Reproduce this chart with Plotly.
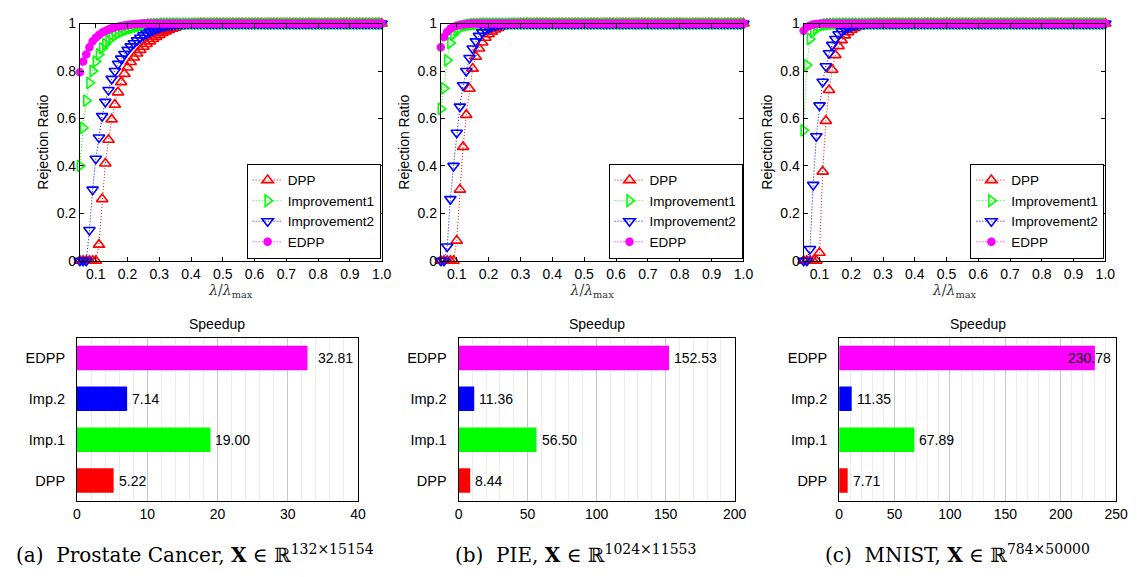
import plotly.graph_objects as go

# ---------------- data ----------------
lam = [0.05, 0.06, 0.07, 0.08, 0.09, 0.10, 0.11, 0.12, 0.13, 0.14,
       0.15, 0.16, 0.17, 0.18, 0.19, 0.20, 0.21, 0.22, 0.23, 0.24,
       0.25, 0.26, 0.27, 0.28, 0.29, 0.30, 0.31, 0.32, 0.33, 0.34,
       0.35, 0.36, 0.37, 0.38, 0.39, 0.40, 0.41, 0.42, 0.43, 0.44,
       0.45, 0.46, 0.47, 0.48, 0.49, 0.50, 0.51, 0.52, 0.53, 0.54,
       0.55, 0.56, 0.57, 0.58, 0.59, 0.60, 0.61, 0.62, 0.63, 0.64,
       0.65, 0.66, 0.67, 0.68, 0.69, 0.70, 0.71, 0.72, 0.73, 0.74,
       0.75, 0.76, 0.77, 0.78, 0.79, 0.80, 0.81, 0.82, 0.83, 0.84,
       0.85, 0.86, 0.87, 0.88, 0.89, 0.90, 0.91, 0.92, 0.93, 0.94,
       0.95, 0.96, 0.97, 0.98, 0.99, 1.00]

# (a) Prostate Cancer
dpp_a = [0, 0, 0, 0, 0, 0, 0.068, 0.26, 0.41, 0.51,
         0.596, 0.658, 0.71, 0.753, 0.788, 0.815, 0.838, 0.857, 0.874, 0.889,
         0.902, 0.914, 0.925, 0.935, 0.944, 0.952, 0.96, 0.967, 0.973, 0.978,
         0.983, 0.987, 0.99, 0.993, 0.995, 0.997, 0.998, 0.999, 1, 1,
         1, 1, 1, 1, 1, 1, 1, 1, 1, 1,
         1, 1, 1, 1, 1, 1, 1, 1, 1, 1,
         1, 1, 1, 1, 1, 1, 1, 1, 1, 1,
         1, 1, 1, 1, 1, 1, 1, 1, 1, 1,
         1, 1, 1, 1, 1, 1, 1, 1, 1, 1,
         1, 1, 1, 1, 1, 1]
imp1_a = [0.40, 0.56, 0.675, 0.75, 0.80, 0.84, 0.87, 0.895, 0.913, 0.928,
          0.94, 0.95, 0.958, 0.965, 0.971, 0.976, 0.98, 0.984, 0.987, 0.99,
          0.992, 0.994, 0.996, 0.997, 0.998, 0.999, 1, 1, 1, 1,
          1, 1, 1, 1, 1, 1, 1, 1, 1, 1,
          1, 1, 1, 1, 1, 1, 1, 1, 1, 1,
          1, 1, 1, 1, 1, 1, 1, 1, 1, 1,
          1, 1, 1, 1, 1, 1, 1, 1, 1, 1,
          1, 1, 1, 1, 1, 1, 1, 1, 1, 1,
          1, 1, 1, 1, 1, 1, 1, 1, 1, 1,
          1, 1, 1, 1, 1, 1]
imp2_a = [0, 0, 0, 0.13, 0.30, 0.43, 0.52, 0.61, 0.67, 0.72,
          0.767, 0.80, 0.83, 0.852, 0.872, 0.889, 0.904, 0.917, 0.929, 0.94,
          0.95, 0.958, 0.966, 0.972, 0.978, 0.983, 0.987, 0.99, 0.993, 0.995,
          0.997, 0.998, 0.999, 1, 1, 1, 1, 1, 1, 1,
          1, 1, 1, 1, 1, 1, 1, 1, 1, 1,
          1, 1, 1, 1, 1, 1, 1, 1, 1, 1,
          1, 1, 1, 1, 1, 1, 1, 1, 1, 1,
          1, 1, 1, 1, 1, 1, 1, 1, 1, 1,
          1, 1, 1, 1, 1, 1, 1, 1, 1, 1,
          1, 1, 1, 1, 1, 1]
edpp_a = [0.795, 0.84, 0.87, 0.90, 0.925, 0.94, 0.952, 0.962, 0.969, 0.975,
          0.98, 0.984, 0.987, 0.99, 0.992, 0.994, 0.996, 0.997, 0.998, 0.999,
          1, 1, 1, 1, 1, 1, 1, 1, 1, 1,
          1, 1, 1, 1, 1, 1, 1, 1, 1, 1,
          1, 1, 1, 1, 1, 1, 1, 1, 1, 1,
          1, 1, 1, 1, 1, 1, 1, 1, 1, 1,
          1, 1, 1, 1, 1, 1, 1, 1, 1, 1,
          1, 1, 1, 1, 1, 1, 1, 1, 1, 1,
          1, 1, 1, 1, 1, 1, 1, 1, 1, 1,
          1, 1, 1, 1, 1, 1]

# (b) PIE
dpp_b = [0, 0, 0, 0, 0, 0.085, 0.30, 0.48, 0.615, 0.725,
         0.81, 0.86, 0.895, 0.92, 0.94, 0.955, 0.966, 0.975, 0.982, 0.987,
         0.991, 0.994, 0.996, 0.998, 0.999, 1, 1, 1, 1, 1,
         1, 1, 1, 1, 1, 1, 1, 1, 1, 1,
         1, 1, 1, 1, 1, 1, 1, 1, 1, 1,
         1, 1, 1, 1, 1, 1, 1, 1, 1, 1,
         1, 1, 1, 1, 1, 1, 1, 1, 1, 1,
         1, 1, 1, 1, 1, 1, 1, 1, 1, 1,
         1, 1, 1, 1, 1, 1, 1, 1, 1, 1,
         1, 1, 1, 1, 1, 1]
imp1_b = [0.64, 0.727, 0.845, 0.918, 0.955, 0.972, 0.982, 0.988, 0.992, 0.995,
          0.997, 0.998, 0.999, 1, 1, 1, 1, 1, 1, 1,
          1, 1, 1, 1, 1, 1, 1, 1, 1, 1,
          1, 1, 1, 1, 1, 1, 1, 1, 1, 1,
          1, 1, 1, 1, 1, 1, 1, 1, 1, 1,
          1, 1, 1, 1, 1, 1, 1, 1, 1, 1,
          1, 1, 1, 1, 1, 1, 1, 1, 1, 1,
          1, 1, 1, 1, 1, 1, 1, 1, 1, 1,
          1, 1, 1, 1, 1, 1, 1, 1, 1, 1,
          1, 1, 1, 1, 1, 1]
imp2_b = [0, 0, 0.06, 0.26, 0.40, 0.54, 0.65, 0.74, 0.80, 0.855,
          0.895, 0.925, 0.948, 0.963, 0.974, 0.982, 0.988, 0.992, 0.995, 0.997,
          0.999, 1, 1, 1, 1, 1, 1, 1, 1, 1,
          1, 1, 1, 1, 1, 1, 1, 1, 1, 1,
          1, 1, 1, 1, 1, 1, 1, 1, 1, 1,
          1, 1, 1, 1, 1, 1, 1, 1, 1, 1,
          1, 1, 1, 1, 1, 1, 1, 1, 1, 1,
          1, 1, 1, 1, 1, 1, 1, 1, 1, 1,
          1, 1, 1, 1, 1, 1, 1, 1, 1, 1,
          1, 1, 1, 1, 1, 1]
edpp_b = [0.90, 0.943, 0.965, 0.978, 0.986, 0.991, 0.994, 0.996, 0.998, 0.999,
          1, 1, 1, 1, 1, 1, 1, 1, 1, 1,
          1, 1, 1, 1, 1, 1, 1, 1, 1, 1,
          1, 1, 1, 1, 1, 1, 1, 1, 1, 1,
          1, 1, 1, 1, 1, 1, 1, 1, 1, 1,
          1, 1, 1, 1, 1, 1, 1, 1, 1, 1,
          1, 1, 1, 1, 1, 1, 1, 1, 1, 1,
          1, 1, 1, 1, 1, 1, 1, 1, 1, 1,
          1, 1, 1, 1, 1, 1, 1, 1, 1, 1,
          1, 1, 1, 1, 1, 1]

# (c) MNIST
dpp_c = [0, 0, 0, 0, 0, 0.034, 0.376, 0.59, 0.72, 0.805,
         0.867, 0.905, 0.93, 0.95, 0.964, 0.974, 0.982, 0.987, 0.991, 0.994,
         0.996, 0.998, 0.999, 1, 1, 1, 1, 1, 1, 1,
         1, 1, 1, 1, 1, 1, 1, 1, 1, 1,
         1, 1, 1, 1, 1, 1, 1, 1, 1, 1,
         1, 1, 1, 1, 1, 1, 1, 1, 1, 1,
         1, 1, 1, 1, 1, 1, 1, 1, 1, 1,
         1, 1, 1, 1, 1, 1, 1, 1, 1, 1,
         1, 1, 1, 1, 1, 1, 1, 1, 1, 1,
         1, 1, 1, 1, 1, 1]
imp1_c = [0.55, 0.825, 0.935, 0.965, 0.98, 0.988, 0.993, 0.996, 0.998, 0.999,
          1, 1, 1, 1, 1, 1, 1, 1, 1, 1,
          1, 1, 1, 1, 1, 1, 1, 1, 1, 1,
          1, 1, 1, 1, 1, 1, 1, 1, 1, 1,
          1, 1, 1, 1, 1, 1, 1, 1, 1, 1,
          1, 1, 1, 1, 1, 1, 1, 1, 1, 1,
          1, 1, 1, 1, 1, 1, 1, 1, 1, 1,
          1, 1, 1, 1, 1, 1, 1, 1, 1, 1,
          1, 1, 1, 1, 1, 1, 1, 1, 1, 1,
          1, 1, 1, 1, 1, 1]
imp2_c = [0, 0, 0.05, 0.32, 0.525, 0.655, 0.755, 0.82, 0.875, 0.91,
          0.935, 0.955, 0.968, 0.977, 0.984, 0.989, 0.993, 0.996, 0.998, 0.999,
          1, 1, 1, 1, 1, 1, 1, 1, 1, 1,
          1, 1, 1, 1, 1, 1, 1, 1, 1, 1,
          1, 1, 1, 1, 1, 1, 1, 1, 1, 1,
          1, 1, 1, 1, 1, 1, 1, 1, 1, 1,
          1, 1, 1, 1, 1, 1, 1, 1, 1, 1,
          1, 1, 1, 1, 1, 1, 1, 1, 1, 1,
          1, 1, 1, 1, 1, 1, 1, 1, 1, 1,
          1, 1, 1, 1, 1, 1]
edpp_c = [0.97, 0.985, 0.992, 0.996, 0.998, 0.999, 1, 1, 1, 1,
          1, 1, 1, 1, 1, 1, 1, 1, 1, 1,
          1, 1, 1, 1, 1, 1, 1, 1, 1, 1,
          1, 1, 1, 1, 1, 1, 1, 1, 1, 1,
          1, 1, 1, 1, 1, 1, 1, 1, 1, 1,
          1, 1, 1, 1, 1, 1, 1, 1, 1, 1,
          1, 1, 1, 1, 1, 1, 1, 1, 1, 1,
          1, 1, 1, 1, 1, 1, 1, 1, 1, 1,
          1, 1, 1, 1, 1, 1, 1, 1, 1, 1,
          1, 1, 1, 1, 1, 1]

series_names = ["DPP", "Improvement1", "Improvement2", "EDPP"]

speed_cats = ["DPP", "Imp.1", "Imp.2", "EDPP"]
speed_a = [5.22, 19.00, 7.14, 32.81]
speed_b = [8.44, 56.50, 11.36, 152.53]
speed_c = [7.71, 67.89, 11.35, 230.78]

captions = [
    "(a)  Prostate Cancer, <b>X</b> ∈ ℝ<sup>132×15154</sup>",
    "(b)  PIE, <b>X</b> ∈ ℝ<sup>1024×11553</sup>",
    "(c)  MNIST, <b>X</b> ∈ ℝ<sup>784×50000</sup>",
]

# ---------------- styling ----------------
W, H = 1142, 577
SANS = "Liberation Sans, Arial, Helvetica, sans-serif"
SERIF = "DejaVu Serif, Liberation Serif, serif"
colors = ["#FF0000", "#00FF00", "#0000FF", "#FF00FF"]
symbols = ["triangle-up-open", "triangle-right-open", "triangle-down-open", "asterisk-open"]
msizes = [10, 10, 10, 7]
mwidths = [1.6, 1.6, 1.6, 2.8]

def px_x(a, b):
    return [a / W, b / W]

def px_y(top, bottom):
    return [1 - bottom / H, 1 - top / H]

top_x = [px_x(77, 383), px_x(443, 750), px_x(811, 1117)]
top_y = px_y(16, 260)
bot_x = [px_x(74, 359), px_x(461, 741), px_x(847, 1128)]
bot_y = px_y(339, 507)
cap_cx = [194, 580, 967]

fig = go.Figure()

line_sets = [
    [dpp_a, imp1_a, imp2_a, edpp_a],
    [dpp_b, imp1_b, imp2_b, edpp_b],
    [dpp_c, imp1_c, imp2_c, edpp_c],
]
legends = ["legend", "legend2", "legend3"]

for k, sets in enumerate(line_sets):
    xa = "x" if k == 0 else f"x{k+1}"
    ya = "y" if k == 0 else f"y{k+1}"
    for i, vals in enumerate(sets):
        fig.add_trace(go.Scatter(
            x=lam, y=vals, xaxis=xa, yaxis=ya, mode="lines+markers",
            name=series_names[i], legend=legends[k], cliponaxis=False,
            line=dict(color=colors[i], width=1, dash="1px,2px"),
            marker=dict(symbol=symbols[i], size=msizes[i], color=colors[i],
                        line=dict(color=colors[i], width=mwidths[i])),
        ))

speeds = [speed_a, speed_b, speed_c]
ranges = [[0, 40], [0, 200], [0, 250]]
dticks = [10, 50, 50]
minors = [2, 10, 10]
annotations = []

for k, sp in enumerate(speeds):
    n = k + 4
    fig.add_trace(go.Bar(
        x=sp, y=speed_cats, orientation="h", xaxis=f"x{n}", yaxis=f"y{n}",
        marker=dict(color=colors, line=dict(width=0)), showlegend=False,
    ))
    rmax = ranges[k][1]
    for v, c in zip(sp, speed_cats):
        label = f"{v:.2f}"
        if v / rmax > 0.8:
            annotations.append(dict(x=rmax, y=c, xref=f"x{n}", yref=f"y{n}", text=label,
                                    showarrow=False, xanchor="right", xshift=-3,
                                    font=dict(family=SANS, size=14, color="black")))
        else:
            annotations.append(dict(x=v, y=c, xref=f"x{n}", yref=f"y{n}", text=label,
                                    showarrow=False, xanchor="left", xshift=3,
                                    font=dict(family=SANS, size=14, color="black")))
    # "Speedup" title
    annotations.append(dict(x=(bot_x[k][0] + bot_x[k][1]) / 2, y=1 - 325 / H, xref="paper", yref="paper",
                            text="Speedup", showarrow=False, xanchor="center", yanchor="middle",
                            font=dict(family=SANS, size=14, color="black")))
    # caption
    annotations.append(dict(x=cap_cx[k] / W, y=1 - 562 / H, xref="paper", yref="paper",
                            text=captions[k], showarrow=False, xanchor="center", yanchor="middle",
                            font=dict(family=SERIF, size=20, color="black")))

layout = dict(
    width=W, height=H, margin=dict(l=0, r=0, t=0, b=0),
    paper_bgcolor="white", plot_bgcolor="white",
    font=dict(family=SANS, size=14, color="black"),
    bargap=0.4, annotations=annotations,
)

for k in range(3):
    xk = "xaxis" if k == 0 else f"xaxis{k+1}"
    yk = "yaxis" if k == 0 else f"yaxis{k+1}"
    xa = "x" if k == 0 else f"x{k+1}"
    ya = "y" if k == 0 else f"y{k+1}"
    layout[xk] = dict(
        domain=top_x[k], anchor=ya, range=[0.05, 1.0],
        tickvals=[0.1, 0.2, 0.3, 0.4, 0.5, 0.6, 0.7, 0.8, 0.9, 1.0], tickformat=".1f",
        ticks="inside", ticklen=4, tickcolor="black", showline=True, linecolor="black",
        linewidth=1, mirror="ticks", showgrid=False, zeroline=False,
        tickfont=dict(family=SANS, size=14),
        title=dict(text="<i>λ</i>/<i>λ</i><sub>max</sub>", standoff=0,
                   font=dict(family=SERIF, size=14, color="#333333")),
    )
    layout[yk] = dict(
        domain=top_y, anchor=xa, range=[0, 1],
        tickvals=[0, 0.2, 0.4, 0.6, 0.8, 1],
        ticks="inside", ticklen=4, tickcolor="black", showline=True, linecolor="black",
        linewidth=1, mirror="ticks", showgrid=False, zeroline=False,
        tickfont=dict(family=SANS, size=14),
        title=dict(text="Rejection Ratio", standoff=4, font=dict(family=SANS, size=14)),
    )
    lk = "legend" if k == 0 else f"legend{k+1}"
    layout[lk] = dict(
        x=top_x[k][1] - 1 / W, y=top_y[0] + 2 / H, xanchor="right", yanchor="bottom",
        bgcolor="white", bordercolor="black", borderwidth=1,
        font=dict(family=SANS, size=13.5, color="black"), itemwidth=30,
        tracegroupgap=0,
    )

for k in range(3):
    n = k + 4
    layout[f"xaxis{n}"] = dict(
        domain=bot_x[k], anchor=f"y{n}", range=ranges[k], dtick=dticks[k],
        showline=True, linecolor="black", linewidth=1, mirror=True,
        showgrid=True, gridcolor="#c8c8c8", gridwidth=1, zeroline=False,
        ticks="", tickfont=dict(family=SANS, size=14),
        minor=dict(dtick=minors[k], showgrid=True, gridcolor="#ececec", gridwidth=1),
    )
    layout[f"yaxis{n}"] = dict(
        domain=bot_y, anchor=f"x{n}", range=[-0.5, 3.5],
        showline=True, linecolor="black", linewidth=1, mirror=True,
        showgrid=False, zeroline=False, ticks="", ticklabelstandoff=8,
        tickfont=dict(family=SANS, size=14.5),
    )

fig.update_layout(**layout)
fig.write_html("out.html")
